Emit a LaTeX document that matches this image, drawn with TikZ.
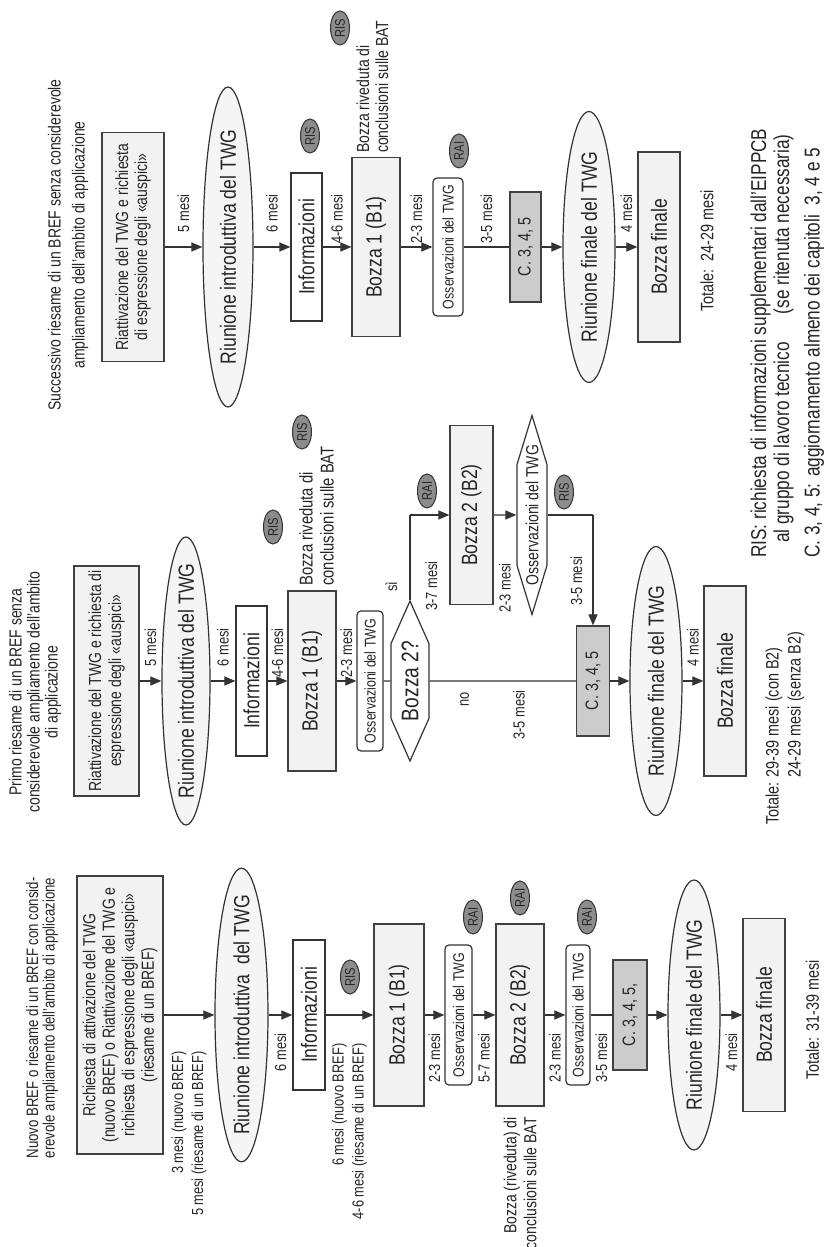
\documentclass[tikz,border=0pt]{standalone}
\usepackage{fontspec}
\setmainfont{Liberation Sans}[FakeStretch=0.8]
\usetikzlibrary{arrows.meta,positioning,shapes.geometric,shapes.symbols}

\newcommand{\fsz}[2]{\fontsize{#1}{#2}\selectfont}

\begin{document}
\begin{tikzpicture}[
    x=1pt, y=1pt, rotate=90, transform shape,
    every node/.style={inner sep=2pt, text=black!85},
    ttl/.style={align=center, inner sep=0pt},
    req/.style={rectangle, draw=black!75, fill=black!5, line width=1.2pt, align=center},
    mtg/.style={ellipse, draw=black!80, fill=black!4, line width=1.2pt,
                inner xsep=-16pt, inner ysep=0pt, font=\fsz{22}{26}},
    info/.style={rectangle, draw=black!80, fill=white, line width=1.2pt, font=\fsz{22}{26}},
    bz/.style={rectangle, draw=black!75, fill=black!5, line width=1.2pt, font=\fsz{22}{26}},
    obs/.style={rectangle, rounded corners=4pt, draw=black!80, fill=white,
                line width=1.2pt, inner sep=1pt, font=\fsz{15.5}{18}},
    chp/.style={rectangle, draw=black!75, fill=black!20, line width=1.2pt, font=\fsz{18}{20}},
    hex/.style={signal, signal to=east and west, draw=black!80, fill=white, line width=1.2pt},
    bdg/.style={ellipse, draw=black!80, fill=black!45, line width=1pt, minimum width=34pt,
                minimum height=19pt, inner sep=0pt, font=\fsz{14}{14}},
    lbl/.style={font=\fsz{16}{20}, inner sep=0pt},
    rl/.style={lbl, anchor=east, xshift=53pt},
    ll/.style={lbl, anchor=east, xshift=-18pt},
    nt/.style={align=left, inner sep=0pt, font=\fsz{17.5}{19}},
    tot/.style={align=left, inner sep=0pt, font=\fsz{18}{22}},
    lgd/.style={align=left, inner sep=0pt, font=\fsz{21.5}{23}},
    e/.style={-{Triangle[length=11pt, width=9pt]}, line width=1.2pt, draw=black!80},
    ln/.style={line width=1.2pt, draw=black!80},
  ]
  \fill[white] (0,0) rectangle (1247,829);
  \useasboundingbox (0,0) rectangle (1247,829);

  % successivo riesame
  \node[ttl, font=\fsz{17.5}{24}] (t3) at (1002, 761) {Successivo riesame di un BREF senza considerevole\\ampliamento dell'ambito di applicazione};
  \node[req, font=\fsz{17.5}{19}, minimum width=229pt, minimum height=62pt] (r3) at (1000, 696) {Riattivazione del TWG e richiesta\\di espressione degli «auspici»};
  \node[mtg, minimum width=320pt, minimum height=50pt] (i3) at (1000, 601) {Riunione introduttiva del TWG};
  \node[info, minimum width=148pt, minimum height=31pt] (f3) at (1000, 522.5) {Informazioni};
  \node[bz, minimum width=179pt, minimum height=48pt] (b3) at (1000, 453) {Bozza 1 (B1)};
  \node[nt, anchor=west] (n3) at (1094, 456.5) {Bozza riveduta di\\conclusioni sulle BAT};
  \node[obs, minimum width=138pt, minimum height=30pt] (o3) at (1000, 381) {Osservazioni del TWG};
  \node[chp, minimum width=110pt, minimum height=31pt] (c3) at (1000, 303.5) {C. 3, 4, 5};
  \node[mtg, minimum width=271pt, minimum height=52pt] (m3) at (1000, 240) {Riunione finale del TWG};
  \node[bz, minimum width=190pt, minimum height=42pt] (z3) at (1000, 170) {Bozza finale};
  \node[tot] (s3) at (996, 122) {Totale:\ \ 24-29 mesi};
  \node[bdg] (ris31) at (1111, 519) {RIS};
  \node[bdg] (ris32) at (1219, 489) {RIS};
  \node[bdg] (rai31) at (1096, 370) {RAI};
  \draw[e] (r3) -- node[rl] {5 mesi} (i3);
  \draw[e] (i3) -- node[rl] {6 mesi} (f3);
  \draw[e] (f3) -- node[rl] {4-6 mesi} (b3);
  \draw[e] (b3) -- node[rl] {2-3 mesi} (o3);
  \draw[ln] (o3) -- node[rl] {3-5 mesi} (c3);
  \draw[e] (c3) -- (m3);
  \draw[e] (m3) -- node[rl] {4 mesi} (z3);

  % primo riesame
  \node[ttl, font=\fsz{17.5}{18}] (t2) at (555, 794) {Primo riesame di un BREF senza\\considerevole ampliamento dell'ambito\\di applicazione};
  \node[req, font=\fsz{17.5}{20}, minimum width=230pt, minimum height=65pt] (r2) at (566, 722.5) {Riattivazione del TWG e richiesta di\\espressione degli «auspici»};
  \node[mtg, minimum width=288pt, minimum height=48pt] (i2) at (566, 643) {Riunione introduttiva del TWG};
  \node[info, minimum width=150pt, minimum height=31pt] (f2) at (566, 577.5) {Informazioni};
  \node[bz, minimum width=180pt, minimum height=48pt] (b2) at (566, 517) {Bozza 1 (B1)};
  \node[nt, font=\fsz{18.5}{21}, anchor=west] (n2) at (661, 512.5) {Bozza riveduta di\\conclusioni sulle BAT};
  \node[obs, minimum width=140pt, minimum height=26pt] (o2) at (566, 459) {Osservazioni del TWG};
  \node[hex, signal pointer angle=48, inner xsep=-3pt, minimum width=160pt, minimum height=38pt, font=\fsz{24}{26}] (q2) at (566, 419) {Bozza 2?};
  \node[bz, minimum width=179pt, minimum height=43pt] (k2) at (732, 357.5) {Bozza 2 (B2)};
  \node[hex, signal pointer angle=34, inner xsep=-21pt, minimum width=199pt, minimum height=30pt, font=\fsz{17.5}{20}] (p2) at (732, 297) {Osservazioni del TWG};
  \node[chp, minimum width=110pt, minimum height=33pt] (c2) at (566, 236) {C. 3, 4, 5};
  \node[mtg, minimum width=269pt, minimum height=52pt] (m2) at (566, 173) {Riunione finale del TWG};
  \node[bz, minimum width=190pt, minimum height=42pt] (z2) at (566, 104) {Bozza finale};
  \node[tot, anchor=west] (s2) at (422, 44) {Totale: 29-39 mesi (con B2)\\\phantom{Totale: }24-29 mesi (senza B2)};
  \node[bdg] (ris21) at (720, 556) {RIS};
  \node[bdg] (ris22) at (815, 527) {RIS};
  \node[bdg] (rai21) at (756, 402) {RAI};
  \node[bdg] (ris23) at (755, 265) {RIS};
  \coordinate (y2) at (732, 419);
  \coordinate (w2) at (732, 236);
  \draw[e] (r2) -- node[rl] {5 mesi} (i2);
  \draw[e] (i2) -- node[rl] {6 mesi} (f2);
  \draw[e] (f2) -- node[rl] {4-6 mesi} (b2);
  \draw[e] (b2) -- node[rl] {2-3 mesi} (o2);
  \draw[ln] (o2) -- (q2);
  \draw[ln] (q2.east) -- node[lbl, pos=0.15, above=12pt] {sì} node[lbl, pos=0.16, below=15pt] {3-7 mesi} (y2);
  \draw[e] (y2) -- (k2);
  \draw[e] (k2) -- node[lbl, anchor=east, xshift=-48pt] {2-3 mesi} (p2);
  \draw[ln] (p2) -- (w2);
  \draw[e] (w2) -- node[lbl, pos=0.6, above=10pt] {3-5 mesi} (c2);
  \draw[ln] (q2) -- node[lbl, pos=0.24, anchor=east, xshift=-11pt] {no} node[lbl, pos=0.61, anchor=east, xshift=-9pt] {3-5 mesi} (c2);
  \draw[e] (c2) -- (m2);
  \draw[e] (m2) -- node[rl] {4 mesi} (z2);

  % nuovo BREF
  \node[ttl, font=\fsz{16.5}{16.5}] (t1) at (229, 787) {Nuovo BREF o riesame di un BREF con consid-\\erevole ampliamento dell'ambito di applicazione};
  \node[req, font=\fsz{17.5}{19.5}, minimum width=278pt, minimum height=86pt] (r1) at (232, 709) {Richiesta di attivazione del TWG\\(nuovo BREF) o Riattivazione del TWG e\\richiesta di espressione degli «auspici»\\(riesame di un BREF)};
  \node[mtg, minimum width=290pt, minimum height=53pt] (i1) at (232, 587.5) {Riunione introduttiva\ \ del TWG};
  \node[info, minimum width=150pt, minimum height=32pt] (f1) at (232, 520) {Informazioni};
  \node[bz, minimum width=182pt, minimum height=50pt] (b1) at (232, 430) {Bozza 1 (B1)};
  \node[obs, minimum width=140pt, minimum height=27pt] (o1) at (232, 370.5) {Osservazioni del TWG};
  \node[bz, minimum width=182pt, minimum height=48pt] (k1) at (232, 309) {Bozza 2 (B2)};
  \node[nt, align=right, anchor=east, font=\fsz{17.5}{20}] (n1) at (130, 309) {Bozza (riveduta) di\\conclusioni sulle BAT};
  \node[obs, minimum width=140pt, minimum height=24pt] (p1) at (232, 251) {Osservazioni del TWG};
  \node[chp, minimum width=110pt, minimum height=34pt] (c1) at (232, 199) {C. 3, 4, 5,};
  \node[mtg, minimum width=270pt, minimum height=52pt] (m1) at (232, 135) {Riunione finale del TWG};
  \node[bz, minimum width=193pt, minimum height=42pt] (z1) at (232, 65) {Bozza finale};
  \node[tot] (s1) at (227, 16.5) {Totale: 31-39 mesi};
  \node[bdg] (ris11) at (270, 479) {RIS};
  \node[bdg] (rai11) at (330, 356) {RAI};
  \node[bdg] (rai12) at (349, 309) {RAI};
  \node[bdg] (rai13) at (330, 242) {RAI};
  \draw[e] (r1) -- node[lbl, align=right, anchor=east, xshift=-36pt] {3 mesi (nuovo BREF)\\5 mesi (riesame di un BREF)} (i1);
  \draw[e] (i1) -- node[ll] {6 mesi} (f1);
  \draw[e] (f1) -- node[lbl, align=right, anchor=east, xshift=-28pt] {6 mesi (nuovo BREF)\\4-6 mesi (riesame di un BREF)} (b1);
  \draw[e] (b1) -- node[ll] {2-3 mesi} (o1);
  \draw[e] (o1) -- node[ll] {5-7 mesi} (k1);
  \draw[e] (k1) -- node[ll] {2-3 mesi} (p1);
  \draw[ln] (p1) -- node[ll] {3-5 mesi} (c1);
  \draw[e] (c1) -- (m1);
  \draw[e] (m1) -- node[ll] {4 mesi} (z1);

  % legenda
  \node[lgd, anchor=west] (g1) at (689, 57) {RIS: richiesta di informazioni supplementari dall'EIPPCB\\\hspace*{15pt}al gruppo di lavoro tecnico\hspace{28pt}(se ritenuta necessaria)};
  \node[lgd, anchor=west] (g2) at (689, 15) {C. 3, 4, 5: aggiornamento almeno dei capitoli\ \ 3, 4 e 5};
\end{tikzpicture}
\end{document}
